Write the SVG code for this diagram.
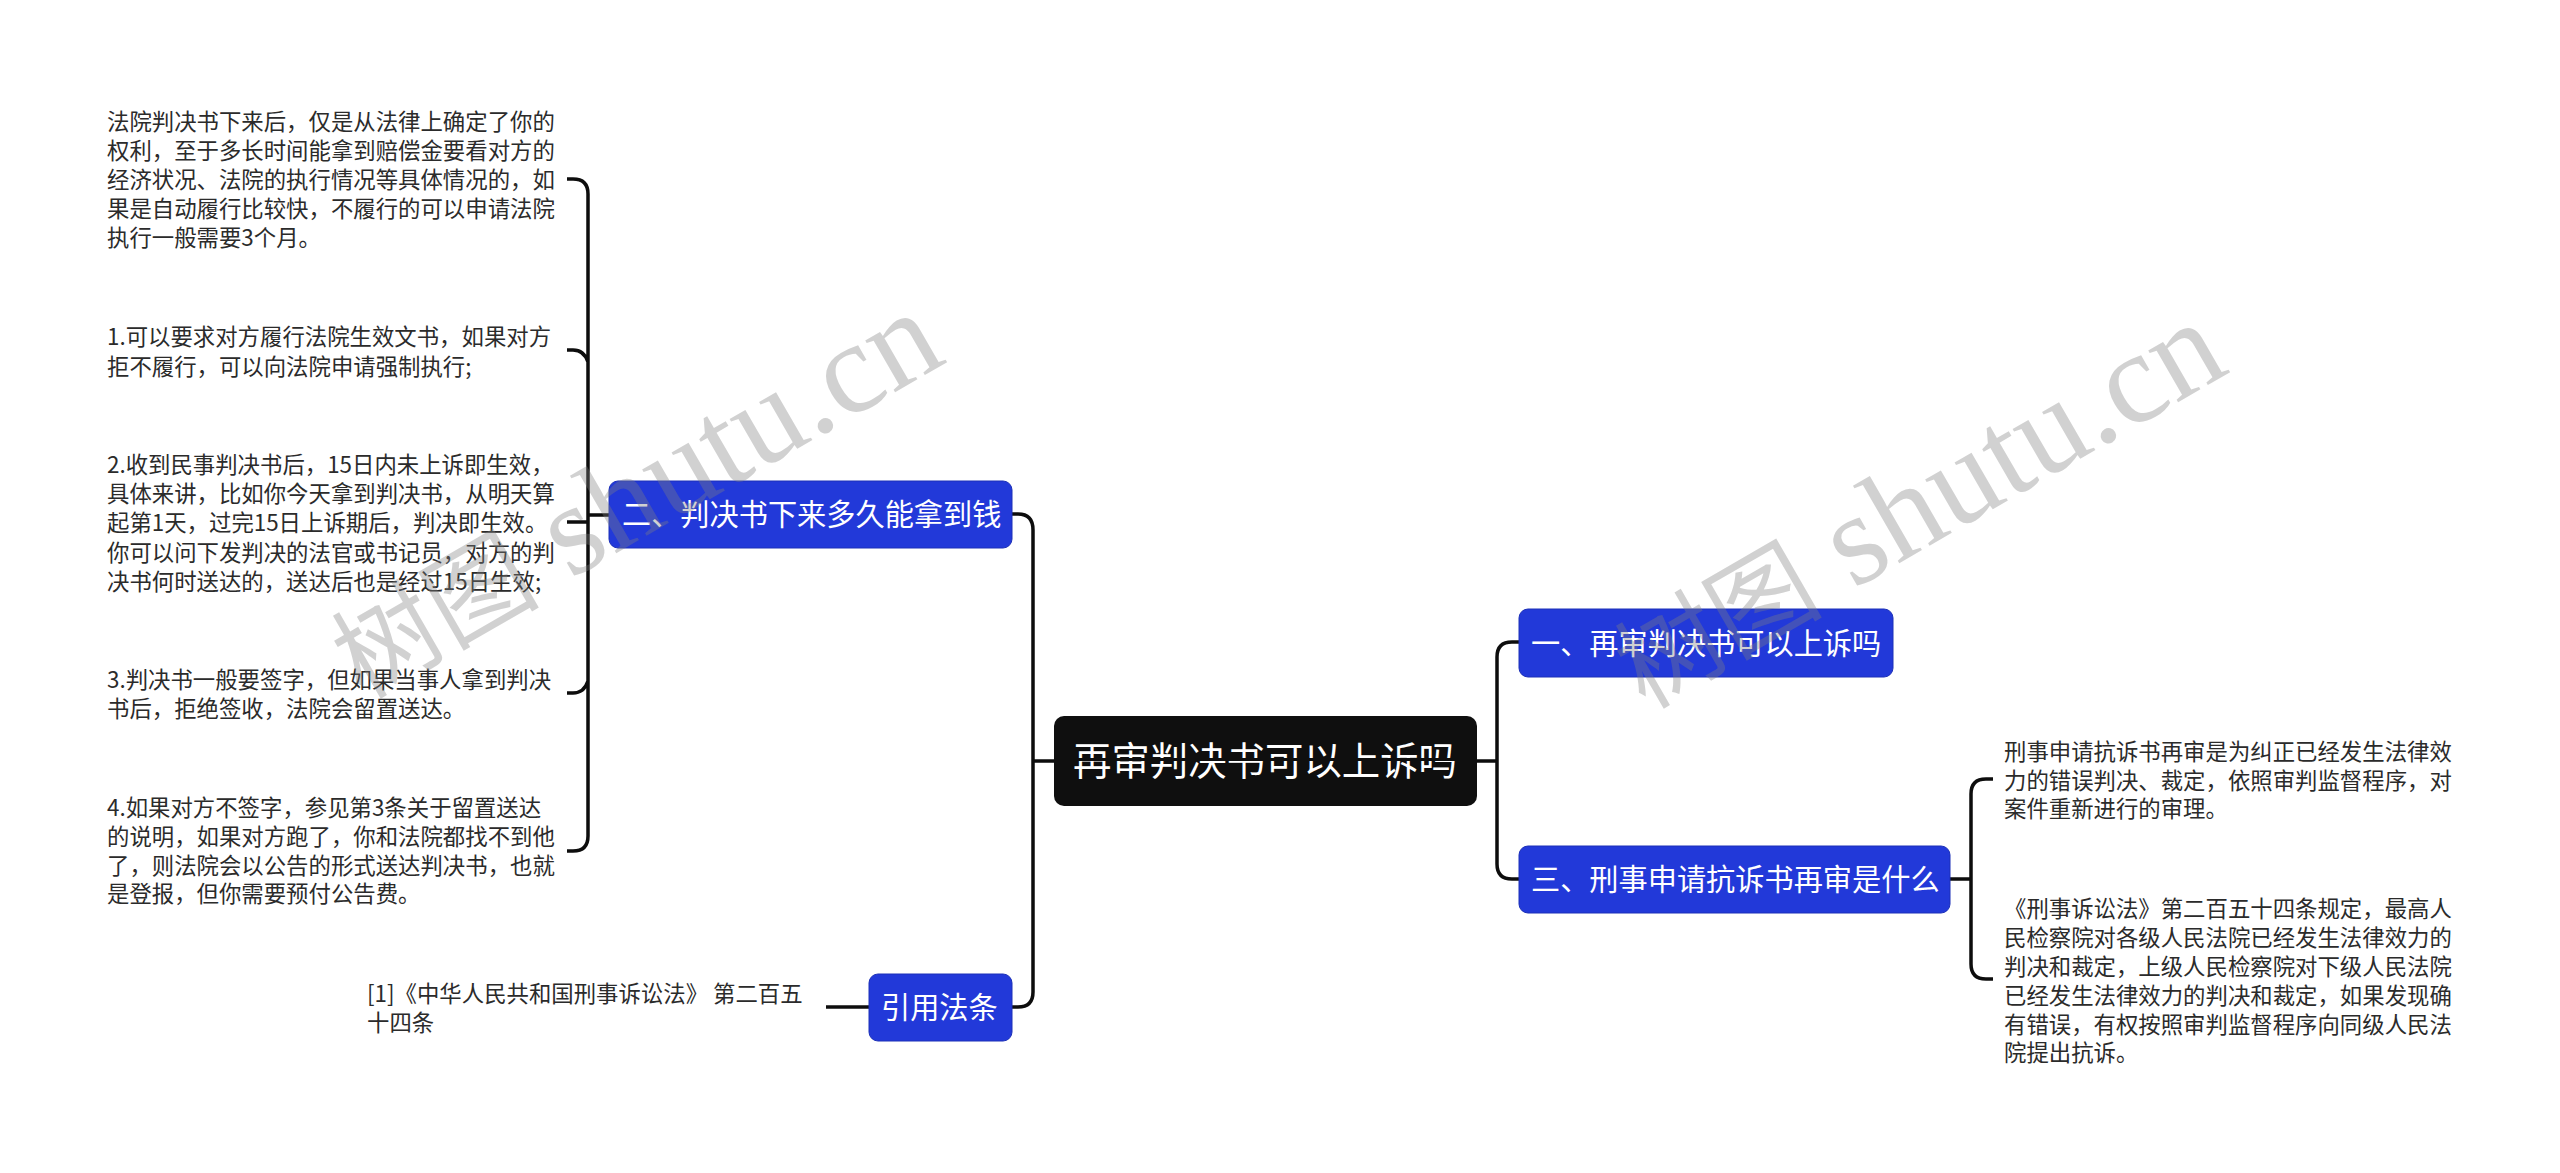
<svg xmlns="http://www.w3.org/2000/svg" width="2560" height="1173" viewBox="0 0 2560 1173">
<style>
text{font-family:"Noto Sans CJK SC","Microsoft YaHei","Liberation Sans",sans-serif}
.t{font-size:22.4px;fill:#2b2b2b}
.n{font-size:29.2px;fill:#fff}
.r{font-size:38.4px;fill:#fff}
.blue{fill:#2239d9;stroke:#1c30b8;stroke-width:1}
.c{fill:none;stroke:#0d0d0d;stroke-width:3.5}
.w{font-family:"Liberation Serif","Noto Sans CJK SC",serif;font-size:130px;fill:#808080;fill-opacity:.36}
.wc{font-size:104px;font-family:"Noto Sans CJK SC",sans-serif;font-weight:400}
</style>
<rect width="2560" height="1173" fill="#fff"/>
<g id="connectors">
<path class="c" d="M1054 761H1033M1033 530V992Q1033 1007 1018 1007H1012M1033 530Q1033 514 1018 514H1012"/>
<path class="c" d="M1477 761H1497M1519 642H1512Q1497 642 1497 657V864Q1497 879 1512 879H1519"/>
<path class="c" d="M609 515H588M567 179H573Q588 179 588 194V836Q588 851 573 851H567M567 350H573Q584 350 588 362M567 522H588M567 693H573Q584 693 588 681"/>
<path class="c" d="M869 1007H826"/>
<path class="c" d="M1950 879H1971M1993 779H1986Q1971 779 1971 794V964Q1971 979 1986 979H1993"/>
</g>
<g id="root"><rect x="1054" y="716" width="423" height="90" rx="10" fill="#0f0f0f"/><text class="r" x="1265" y="775" text-anchor="middle">再审判决书可以上诉吗</text><rect x="1062" y="758" width="406" height="3" fill="#0f0f0f"/></g>
<g id="n1"><rect class="blue" x="1519" y="609" width="374" height="68" rx="9"/><text class="n" x="1531" y="654">一、再审判决书可以上诉吗</text></g>
<g id="n3"><rect class="blue" x="1519" y="846" width="431" height="67" rx="9"/><text class="n" x="1531" y="890">三、刑事申请抗诉书再审是什么</text></g>
<g id="n2"><rect class="blue" x="609" y="481" width="403" height="67" rx="9"/><text class="n" x="622" y="525">二、判决书下来多久能拿到钱</text></g>
<g id="n4"><rect class="blue" x="869" y="974" width="143" height="67" rx="9"/><text class="n" x="881" y="1018">引用法条</text></g>
<g id="l1"><text class="t"><tspan x="107" y="130">法院判决书下来后，仅是从法律上确定了你的</tspan><tspan x="107" y="159">权利，至于多长时间能拿到赔偿金要看对方的</tspan><tspan x="107" y="188">经济状况、法院的执行情况等具体情况的，如</tspan><tspan x="107" y="217">果是自动履行比较快，不履行的可以申请法院</tspan><tspan x="107" y="246">执行一般需要3个月。</tspan></text></g>
<g id="l2"><text class="t"><tspan x="107" y="345">1.可以要求对方履行法院生效文书，如果对方</tspan><tspan x="107" y="375">拒不履行，可以向法院申请强制执行;</tspan></text></g>
<g id="l3"><text class="t"><tspan x="107" y="473">2.收到民事判决书后，15日内未上诉即生效，</tspan><tspan x="107" y="502">具体来讲，比如你今天拿到判决书，从明天算</tspan><tspan x="107" y="531">起第1天，过完15日上诉期后，判决即生效。</tspan><tspan x="107" y="561">你可以问下发判决的法官或书记员，对方的判</tspan><tspan x="107" y="590">决书何时送达的，送达后也是经过15日生效;</tspan></text></g>
<g id="l4"><text class="t"><tspan x="107" y="688">3.判决书一般要签字，但如果当事人拿到判决</tspan><tspan x="107" y="717">书后，拒绝签收，法院会留置送达。</tspan></text></g>
<g id="l5"><text class="t"><tspan x="107" y="816">4.如果对方不签字，参见第3条关于留置送达</tspan><tspan x="107" y="845">的说明，如果对方跑了，你和法院都找不到他</tspan><tspan x="107" y="874">了，则法院会以公告的形式送达判决书，也就</tspan><tspan x="107" y="902">是登报，但你需要预付公告费。</tspan></text></g>
<g id="l6"><text class="t"><tspan x="367" y="1002">[1]《中华人民共和国刑事诉讼法》 第二百五</tspan><tspan x="367" y="1031">十四条</tspan></text></g>
<g id="r1"><text class="t"><tspan x="2004" y="760">刑事申请抗诉书再审是为纠正已经发生法律效</tspan><tspan x="2004" y="789">力的错误判决、裁定，依照审判监督程序，对</tspan><tspan x="2004" y="817">案件重新进行的审理。</tspan></text></g>
<g id="r2"><text class="t"><tspan x="2004" y="917">《刑事诉讼法》第二百五十四条规定，最高人</tspan><tspan x="2004" y="946">民检察院对各级人民法院已经发生法律效力的</tspan><tspan x="2004" y="975">判决和裁定，上级人民检察院对下级人民法院</tspan><tspan x="2004" y="1004">已经发生法律效力的判决和裁定，如果发现确</tspan><tspan x="2004" y="1033">有错误，有权按照审判监督程序向同级人民法</tspan><tspan x="2004" y="1061">院提出抗诉。</tspan></text></g>
<g id="watermark"><text class="w" transform="translate(362 700) rotate(-30)"><tspan class="wc">树图</tspan> shutu.cn</text><text class="w" transform="translate(1645 710) rotate(-30)"><tspan class="wc">树图</tspan> shutu.cn</text></g>
</svg>
